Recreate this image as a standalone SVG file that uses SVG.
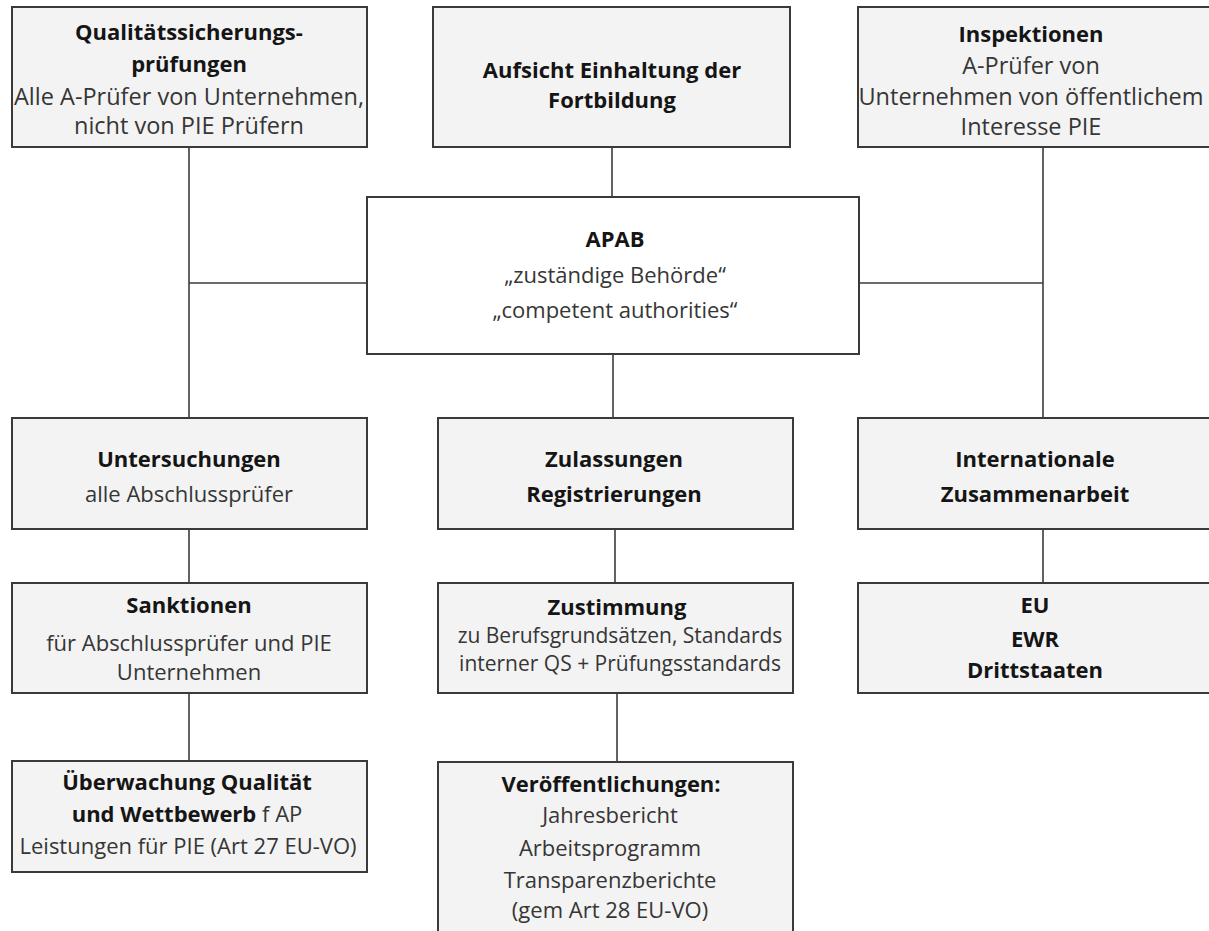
<svg xmlns="http://www.w3.org/2000/svg" width="1209" height="931" viewBox="0 0 1209 931">
<style>
.box{fill:#f3f3f3;stroke:#3a3a3a;stroke-width:2}
.main{fill:#ffffff;stroke:#3a3a3a;stroke-width:2}
.ln{fill:none;stroke:#3c3c3c;stroke-width:1.6}
text{font-family:"Open Sans","Noto Sans",sans-serif;text-anchor:middle}
.b{font-weight:bold;font-size:22px;fill:#151515}
.r{font-size:22px;fill:#363636}
.rl{font-size:23.5px;fill:#363636}
.rs{font-size:21px;fill:#363636}
</style>
<rect width="1209" height="931" fill="#ffffff"/>
<g id="connectors">
<path class="ln" d="M189,147 V418 M189,283 H367 M859,283 H1043 M1043,147 V418 M612,147 V197 M613,354 V418 M189,529 V583 M615,529 V583 M1043,529 V583 M189,693 V761 M617,693 V762"/>
</g>
<g id="qs">
<rect class="box" x="12" y="7" width="355" height="140"/>
<text class="b" x="189" y="40">Qualitätssicherungs-</text>
<text class="b" x="189" y="72">prüfungen</text>
<text class="rl" x="189" y="105">Alle A-Prüfer von Unternehmen,</text>
<text class="rl" x="189" y="134">nicht von PIE Prüfern</text>
</g>
<g id="fortbildung">
<rect class="box" x="433" y="7" width="357" height="140"/>
<text class="b" x="612" y="78">Aufsicht Einhaltung der</text>
<text class="b" x="612" y="108">Fortbildung</text>
</g>
<g id="inspektionen">
<rect class="box" x="858" y="7" width="370" height="140"/>
<text class="b" x="1031" y="42" font-size="21">Inspektionen</text>
<text class="rl" x="1031" y="74">A-Prüfer von</text>
<text class="rl" x="1031" y="105">Unternehmen von öffentlichem</text>
<text class="rl" x="1031" y="135">Interesse PIE</text>
</g>
<g id="apab">
<rect class="main" x="367" y="197" width="492" height="157"/>
<text class="b" x="615" y="247">APAB</text>
<text class="r" x="615" y="283">„zuständige Behörde“</text>
<text class="r" x="615" y="318">„competent authorities“</text>
</g>
<g id="untersuchungen">
<rect class="box" x="12" y="418" width="355" height="111"/>
<text class="b" x="189" y="467">Untersuchungen</text>
<text class="r" x="189" y="502">alle Abschlussprüfer</text>
</g>
<g id="zulassungen">
<rect class="box" x="438" y="418" width="355" height="111"/>
<text class="b" x="614" y="467">Zulassungen</text>
<text class="b" x="614" y="502">Registrierungen</text>
</g>
<g id="international">
<rect class="box" x="858" y="418" width="370" height="111"/>
<text class="b" x="1035" y="467">Internationale</text>
<text class="b" x="1035" y="502">Zusammenarbeit</text>
</g>
<g id="sanktionen">
<rect class="box" x="12" y="583" width="355" height="110"/>
<text class="b" x="189" y="613">Sanktionen</text>
<text class="r" x="189" y="651">für Abschlussprüfer und PIE</text>
<text class="r" x="189" y="680">Unternehmen</text>
</g>
<g id="zustimmung">
<rect class="box" x="438" y="583" width="355" height="110"/>
<text class="b" x="617" y="615">Zustimmung</text>
<text class="rs" x="620" y="643">zu Berufsgrundsätzen, Standards</text>
<text class="rs" x="620" y="671">interner QS + Prüfungsstandards</text>
</g>
<g id="eu">
<rect class="box" x="858" y="583" width="370" height="110"/>
<text class="b" x="1035" y="613">EU</text>
<text class="b" x="1035" y="647">EWR</text>
<text class="b" x="1035" y="678">Drittstaaten</text>
</g>
<g id="ueberwachung">
<rect class="box" x="12" y="761" width="355" height="111"/>
<text class="b" x="187" y="790">Überwachung Qualität</text>
<text x="187" y="822"><tspan class="b">und Wettbewerb</tspan><tspan class="r"> f AP</tspan></text>
<text class="r" x="188" y="854">Leistungen für PIE (Art 27 EU-VO)</text>
</g>
<g id="veroeffentlichungen">
<rect class="box" x="438" y="762" width="355" height="190"/>
<text class="b" x="611" y="792">Veröffentlichungen:</text>
<text class="r" x="610" y="823">Jahresbericht</text>
<text class="r" x="610" y="856">Arbeitsprogramm</text>
<text class="r" x="610" y="888">Transparenzberichte</text>
<text class="r" x="610" y="918">(gem Art 28 EU-VO)</text>
</g>
</svg>
